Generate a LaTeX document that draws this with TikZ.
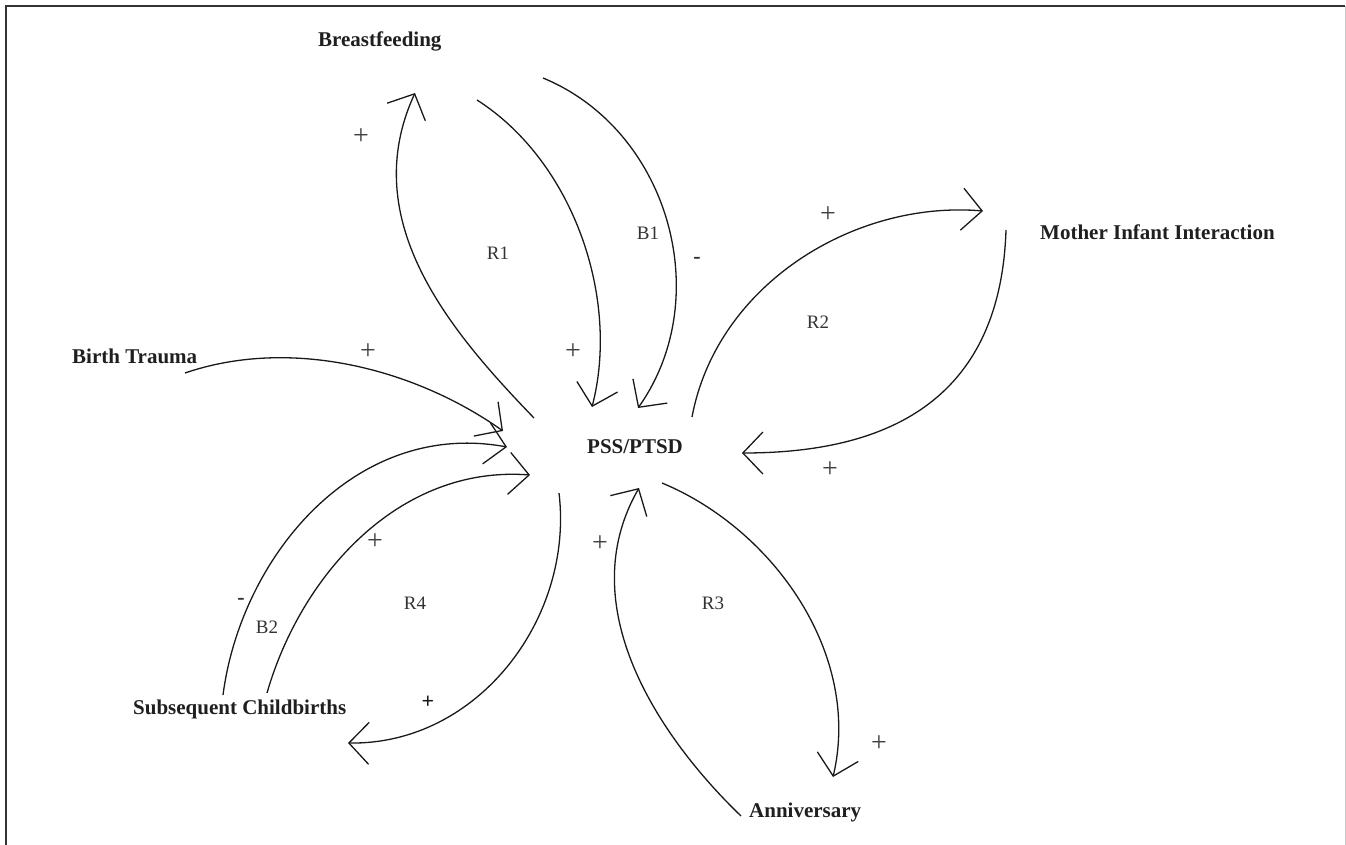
\documentclass[tikz,border=0pt]{standalone}
\usepackage{fontspec}
\setmainfont{Liberation Serif}
\usetikzlibrary{arrows.meta}
\begin{document}
\begin{tikzpicture}[x=1pt,y=-1pt,
  conn/.style={draw=black!90, line width=1.3pt, -{Straight Barb[length=20pt,width=42pt,line width=1.3pt]}},
  var/.style={inner sep=0pt, anchor=base west, font=\fontsize{21}{25}\selectfont\bfseries, text=black!88},
  pol/.style={inner sep=0pt, font=\fontsize{28}{32}\selectfont, text=black!75},
  bpol/.style={inner sep=0pt, font=\fontsize{22}{26}\selectfont\bfseries, text=black!90},
  neg/.style={inner sep=0pt, font=\fontsize{22}{26}\selectfont\bfseries, text=black!80},
  loopname/.style={inner sep=0pt, font=\fontsize{19}{23}\selectfont, text=black!80}]
\useasboundingbox (0,0) rectangle (1346,845);
% frame
\draw[black!80, line width=1.5pt] (6,845) -- (6,6) -- (1345,6);
\draw[black!22, line width=1pt] (1345,6) -- (1345,845);

% variables
\node[var] (bf)  at (318,47)  {Breastfeeding};
\node[var] (mii) at (1040,239) {Mother Infant Interaction};
\node[var] (bt)  at (72,363)  {Birth Trauma};
\node[var] (pss) at (587,453) {PSS/PTSD};
\node[var] (sc)  at (133,714) {Subsequent Childbirths};
\node[var] (an)  at (749,817) {Anniversary};

% connector end points
\coordinate (r1a) at (534,418);  \coordinate (r1b) at (415,93);
\coordinate (r1c) at (477,100);  \coordinate (r1d) at (592,407);
\coordinate (b1a) at (543,78);   \coordinate (b1b) at (638,408);
\coordinate (bta) at (185,373);  \coordinate (btb) at (503,431);
\coordinate (b2a) at (223,695);  \coordinate (b2b) at (507,447);
\coordinate (r4a) at (267,693);  \coordinate (r4b) at (530,475);
\coordinate (r4c) at (559,493);  \coordinate (r4d) at (348,743);
\coordinate (r2a) at (692,417);  \coordinate (r2b) at (983,211);
\coordinate (r2c) at (1006,230); \coordinate (r2d) at (742,453);
\coordinate (r3a) at (741,816);  \coordinate (r3b) at (639,488);
\coordinate (r3c) at (662,483);  \coordinate (r3d) at (833,777);

% connectors
\draw[conn] (r1a) .. controls (451,332) and (356,221) .. (r1b);
\draw[conn] (r1c) .. controls (574,162) and (620,299) .. (r1d);
\draw[conn] (b1a) .. controls (669,130) and (716,298) .. (b1b);
\draw[conn] (bta) .. controls (290,337) and (414,368) .. (btb);
\draw[conn] (b2a) .. controls (241,557) and (355,419) .. (b2b);
\draw[conn] (r4a) .. controls (301,575) and (399,465) .. (r4b);
\draw[conn] (r4c) .. controls (574,618) and (478,745) .. (r4d);
\draw[conn] (r2a) .. controls (717,284) and (855,200) .. (r2b);
\draw[conn] (r2c) .. controls (1000,413) and (870,453) .. (r2d);
\draw[conn] (r3a) .. controls (659,737) and (571,606) .. (r3b);
\draw[conn] (r3c) .. controls (773,529) and (862,654) .. (r3d);

% polarities and loop names
\node[pol] (p1) at (361,137) {+};
\node[loopname] (l1) at (498,253) {R1};
\node[loopname] (l2) at (648,233) {B1};
\node[neg] (m1) at (697,260) {-};
\node[pol] (p2) at (573,352) {+};
\node[pol] (p3) at (368,352) {+};
\node[pol] (p4) at (828,215) {+};
\node[loopname] (l3) at (818,322) {R2};
\node[pol] (p5) at (830,470) {+};
\node[pol] (p6) at (600,544) {+};
\node[loopname] (l4) at (713,603) {R3};
\node[pol] (p7) at (879,744) {+};
\node[neg] (m2) at (241,601) {-};
\node[loopname] (l5) at (267,627) {B2};
\node[pol] (p8) at (375,542) {+};
\node[loopname] (l6) at (415,603) {R4};
\node[bpol] (p9) at (428,702) {+};
\end{tikzpicture}
\end{document}
